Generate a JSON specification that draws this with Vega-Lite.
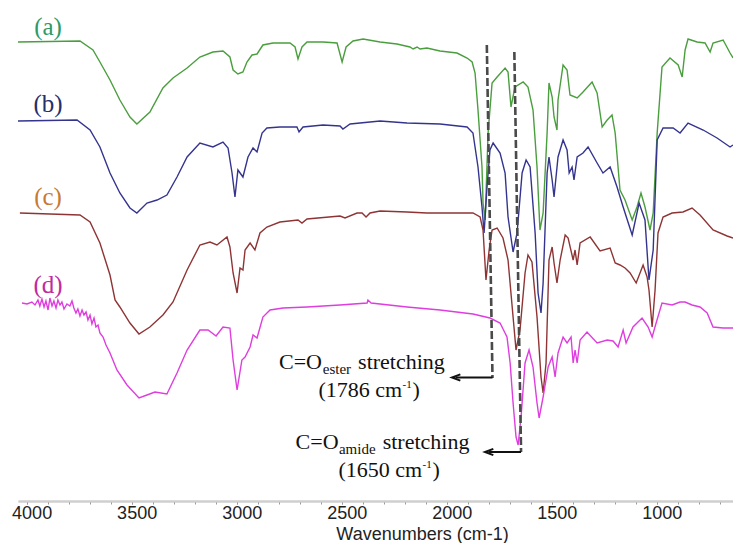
{
  "$schema": "https://vega.github.io/schema/vega-lite/v6.json",
  "width": 715,
  "height": 501,
  "autosize": "none",
  "padding": {"left": 18, "top": 0, "right": 0, "bottom": 42},
  "background": "white",
  "config": {"view": {"stroke": null}, "font": "Liberation Sans"},
  "datasets": {
    "spectra": [
      {"s":"a","wn":4041,"T":459},{"s":"a","wn":3746,"T":460},{"s":"a","wn":3684,"T":451},{"s":"a","wn":3651,"T":439},{"s":"a","wn":3603,"T":421},{"s":"a","wn":3556,"T":401},{"s":"a","wn":3508,"T":384},{"s":"a","wn":3475,"T":377},{"s":"a","wn":3413,"T":389},{"s":"a","wn":3351,"T":413},{"s":"a","wn":3303,"T":423},{"s":"a","wn":3236,"T":433},{"s":"a","wn":3175,"T":444},{"s":"a","wn":3113,"T":449},{"s":"a","wn":3065,"T":450},{"s":"a","wn":3032,"T":444},{"s":"a","wn":3017,"T":431},{"s":"a","wn":2994,"T":427},{"s":"a","wn":2970,"T":429},{"s":"a","wn":2951,"T":439},{"s":"a","wn":2927,"T":446},{"s":"a","wn":2903,"T":447},{"s":"a","wn":2875,"T":456},{"s":"a","wn":2827,"T":458},{"s":"a","wn":2746,"T":458},{"s":"a","wn":2722,"T":454},{"s":"a","wn":2708,"T":442},{"s":"a","wn":2689,"T":454},{"s":"a","wn":2665,"T":459},{"s":"a","wn":2589,"T":459},{"s":"a","wn":2522,"T":458},{"s":"a","wn":2498,"T":439},{"s":"a","wn":2479,"T":454},{"s":"a","wn":2446,"T":460},{"s":"a","wn":2398,"T":462},{"s":"a","wn":2317,"T":459},{"s":"a","wn":2237,"T":457},{"s":"a","wn":2175,"T":454},{"s":"a","wn":2160,"T":452},{"s":"a","wn":2141,"T":454},{"s":"a","wn":2127,"T":452},{"s":"a","wn":2094,"T":453},{"s":"a","wn":2032,"T":450},{"s":"a","wn":1951,"T":448},{"s":"a","wn":1903,"T":443},{"s":"a","wn":1879,"T":439},{"s":"a","wn":1865,"T":428},{"s":"a","wn":1851,"T":391},{"s":"a","wn":1832,"T":334},{"s":"a","wn":1827,"T":298},{"s":"a","wn":1817,"T":281},{"s":"a","wn":1803,"T":368},{"s":"a","wn":1784,"T":418},{"s":"a","wn":1760,"T":424},{"s":"a","wn":1722,"T":433},{"s":"a","wn":1708,"T":429},{"s":"a","wn":1694,"T":394},{"s":"a","wn":1675,"T":414},{"s":"a","wn":1636,"T":419},{"s":"a","wn":1613,"T":414},{"s":"a","wn":1589,"T":391},{"s":"a","wn":1570,"T":334},{"s":"a","wn":1556,"T":271},{"s":"a","wn":1541,"T":288},{"s":"a","wn":1522,"T":368},{"s":"a","wn":1513,"T":418},{"s":"a","wn":1498,"T":404},{"s":"a","wn":1489,"T":384},{"s":"a","wn":1475,"T":371},{"s":"a","wn":1470,"T":401},{"s":"a","wn":1446,"T":436},{"s":"a","wn":1427,"T":431},{"s":"a","wn":1413,"T":406},{"s":"a","wn":1379,"T":403},{"s":"a","wn":1351,"T":409},{"s":"a","wn":1308,"T":419},{"s":"a","wn":1284,"T":408},{"s":"a","wn":1260,"T":374},{"s":"a","wn":1236,"T":381},{"s":"a","wn":1213,"T":386},{"s":"a","wn":1198,"T":368},{"s":"a","wn":1175,"T":311},{"s":"a","wn":1151,"T":301},{"s":"a","wn":1117,"T":281},{"s":"a","wn":1094,"T":294},{"s":"a","wn":1075,"T":308},{"s":"a","wn":1056,"T":294},{"s":"a","wn":1032,"T":271},{"s":"a","wn":1017,"T":288},{"s":"a","wn":998,"T":368},{"s":"a","wn":975,"T":434},{"s":"a","wn":937,"T":443},{"s":"a","wn":898,"T":436},{"s":"a","wn":879,"T":424},{"s":"a","wn":865,"T":451},{"s":"a","wn":851,"T":462},{"s":"a","wn":808,"T":459},{"s":"a","wn":770,"T":458},{"s":"a","wn":746,"T":449},{"s":"a","wn":732,"T":458},{"s":"a","wn":684,"T":461},{"s":"a","wn":651,"T":448},{"s":"a","wn":637,"T":443},
      {"s":"b","wn":4041,"T":380},{"s":"b","wn":3760,"T":381},{"s":"b","wn":3698,"T":371},{"s":"b","wn":3651,"T":354},{"s":"b","wn":3603,"T":328},{"s":"b","wn":3556,"T":308},{"s":"b","wn":3508,"T":293},{"s":"b","wn":3475,"T":288},{"s":"b","wn":3427,"T":298},{"s":"b","wn":3379,"T":301},{"s":"b","wn":3332,"T":306},{"s":"b","wn":3284,"T":324},{"s":"b","wn":3236,"T":344},{"s":"b","wn":3175,"T":358},{"s":"b","wn":3113,"T":354},{"s":"b","wn":3065,"T":359},{"s":"b","wn":3041,"T":353},{"s":"b","wn":3022,"T":328},{"s":"b","wn":3008,"T":304},{"s":"b","wn":2994,"T":331},{"s":"b","wn":2970,"T":324},{"s":"b","wn":2946,"T":344},{"s":"b","wn":2922,"T":353},{"s":"b","wn":2903,"T":349},{"s":"b","wn":2879,"T":368},{"s":"b","wn":2856,"T":373},{"s":"b","wn":2794,"T":374},{"s":"b","wn":2713,"T":374},{"s":"b","wn":2703,"T":369},{"s":"b","wn":2684,"T":374},{"s":"b","wn":2589,"T":376},{"s":"b","wn":2508,"T":375},{"s":"b","wn":2494,"T":372},{"s":"b","wn":2460,"T":377},{"s":"b","wn":2317,"T":380},{"s":"b","wn":2189,"T":378},{"s":"b","wn":2032,"T":377},{"s":"b","wn":1903,"T":374},{"s":"b","wn":1875,"T":368},{"s":"b","wn":1851,"T":334},{"s":"b","wn":1832,"T":294},{"s":"b","wn":1822,"T":268},{"s":"b","wn":1808,"T":314},{"s":"b","wn":1794,"T":351},{"s":"b","wn":1779,"T":358},{"s":"b","wn":1746,"T":348},{"s":"b","wn":1722,"T":328},{"s":"b","wn":1708,"T":284},{"s":"b","wn":1684,"T":249},{"s":"b","wn":1665,"T":268},{"s":"b","wn":1641,"T":328},{"s":"b","wn":1622,"T":341},{"s":"b","wn":1603,"T":334},{"s":"b","wn":1579,"T":268},{"s":"b","wn":1565,"T":208},{"s":"b","wn":1551,"T":188},{"s":"b","wn":1541,"T":218},{"s":"b","wn":1522,"T":328},{"s":"b","wn":1513,"T":344},{"s":"b","wn":1498,"T":321},{"s":"b","wn":1489,"T":304},{"s":"b","wn":1470,"T":344},{"s":"b","wn":1446,"T":361},{"s":"b","wn":1427,"T":351},{"s":"b","wn":1417,"T":328},{"s":"b","wn":1403,"T":334},{"s":"b","wn":1394,"T":321},{"s":"b","wn":1379,"T":344},{"s":"b","wn":1351,"T":348},{"s":"b","wn":1327,"T":354},{"s":"b","wn":1284,"T":338},{"s":"b","wn":1256,"T":328},{"s":"b","wn":1222,"T":334},{"s":"b","wn":1189,"T":314},{"s":"b","wn":1160,"T":294},{"s":"b","wn":1117,"T":266},{"s":"b","wn":1084,"T":298},{"s":"b","wn":1056,"T":281},{"s":"b","wn":1037,"T":221},{"s":"b","wn":1017,"T":251},{"s":"b","wn":998,"T":361},{"s":"b","wn":970,"T":373},{"s":"b","wn":922,"T":373},{"s":"b","wn":889,"T":368},{"s":"b","wn":851,"T":378},{"s":"b","wn":779,"T":371},{"s":"b","wn":713,"T":363},{"s":"b","wn":651,"T":354},{"s":"b","wn":637,"T":356},
      {"s":"c","wn":4032,"T":288},{"s":"c","wn":3746,"T":286},{"s":"c","wn":3698,"T":279},{"s":"c","wn":3651,"T":258},{"s":"c","wn":3603,"T":226},{"s":"c","wn":3579,"T":201},{"s":"c","wn":3556,"T":194},{"s":"c","wn":3508,"T":178},{"s":"c","wn":3465,"T":167},{"s":"c","wn":3413,"T":174},{"s":"c","wn":3351,"T":186},{"s":"c","wn":3303,"T":199},{"s":"c","wn":3236,"T":231},{"s":"c","wn":3175,"T":256},{"s":"c","wn":3127,"T":259},{"s":"c","wn":3094,"T":256},{"s":"c","wn":3046,"T":264},{"s":"c","wn":3032,"T":254},{"s":"c","wn":3017,"T":228},{"s":"c","wn":2998,"T":208},{"s":"c","wn":2984,"T":233},{"s":"c","wn":2970,"T":231},{"s":"c","wn":2960,"T":251},{"s":"c","wn":2936,"T":258},{"s":"c","wn":2913,"T":251},{"s":"c","wn":2889,"T":268},{"s":"c","wn":2856,"T":274},{"s":"c","wn":2794,"T":279},{"s":"c","wn":2708,"T":281},{"s":"c","wn":2689,"T":278},{"s":"c","wn":2665,"T":282},{"s":"c","wn":2508,"T":285},{"s":"c","wn":2484,"T":283},{"s":"c","wn":2427,"T":288},{"s":"c","wn":2403,"T":288},{"s":"c","wn":2384,"T":284},{"s":"c","wn":2365,"T":288},{"s":"c","wn":2317,"T":290},{"s":"c","wn":2189,"T":289},{"s":"c","wn":2094,"T":288},{"s":"c","wn":1875,"T":288},{"s":"c","wn":1841,"T":284},{"s":"c","wn":1827,"T":271},{"s":"c","wn":1813,"T":221},{"s":"c","wn":1798,"T":251},{"s":"c","wn":1784,"T":271},{"s":"c","wn":1760,"T":273},{"s":"c","wn":1732,"T":263},{"s":"c","wn":1708,"T":241},{"s":"c","wn":1684,"T":184},{"s":"c","wn":1670,"T":151},{"s":"c","wn":1651,"T":171},{"s":"c","wn":1627,"T":228},{"s":"c","wn":1613,"T":246},{"s":"c","wn":1594,"T":239},{"s":"c","wn":1570,"T":184},{"s":"c","wn":1551,"T":124},{"s":"c","wn":1541,"T":108},{"s":"c","wn":1527,"T":138},{"s":"c","wn":1513,"T":241},{"s":"c","wn":1498,"T":254},{"s":"c","wn":1489,"T":238},{"s":"c","wn":1475,"T":218},{"s":"c","wn":1460,"T":241},{"s":"c","wn":1436,"T":266},{"s":"c","wn":1422,"T":263},{"s":"c","wn":1398,"T":241},{"s":"c","wn":1389,"T":251},{"s":"c","wn":1379,"T":236},{"s":"c","wn":1365,"T":258},{"s":"c","wn":1317,"T":264},{"s":"c","wn":1270,"T":250},{"s":"c","wn":1222,"T":253},{"s":"c","wn":1198,"T":238},{"s":"c","wn":1175,"T":236},{"s":"c","wn":1151,"T":233},{"s":"c","wn":1127,"T":228},{"s":"c","wn":1098,"T":218},{"s":"c","wn":1065,"T":236},{"s":"c","wn":1046,"T":224},{"s":"c","wn":1037,"T":211},{"s":"c","wn":1022,"T":174},{"s":"c","wn":1008,"T":211},{"s":"c","wn":994,"T":268},{"s":"c","wn":970,"T":284},{"s":"c","wn":927,"T":288},{"s":"c","wn":875,"T":289},{"s":"c","wn":832,"T":293},{"s":"c","wn":794,"T":286},{"s":"c","wn":732,"T":271},{"s":"c","wn":665,"T":265},{"s":"c","wn":637,"T":263},
      {"s":"d","wn":4022,"T":198},{"s":"d","wn":3998,"T":197},{"s":"d","wn":3975,"T":199},{"s":"d","wn":3960,"T":196},{"s":"d","wn":3946,"T":201},{"s":"d","wn":3937,"T":195},{"s":"d","wn":3927,"T":202},{"s":"d","wn":3917,"T":194},{"s":"d","wn":3908,"T":200},{"s":"d","wn":3898,"T":191},{"s":"d","wn":3889,"T":203},{"s":"d","wn":3879,"T":195},{"s":"d","wn":3870,"T":200},{"s":"d","wn":3860,"T":193},{"s":"d","wn":3851,"T":201},{"s":"d","wn":3841,"T":196},{"s":"d","wn":3832,"T":199},{"s":"d","wn":3822,"T":192},{"s":"d","wn":3808,"T":197},{"s":"d","wn":3794,"T":195},{"s":"d","wn":3784,"T":200},{"s":"d","wn":3775,"T":193},{"s":"d","wn":3765,"T":188},{"s":"d","wn":3756,"T":192},{"s":"d","wn":3746,"T":185},{"s":"d","wn":3736,"T":191},{"s":"d","wn":3727,"T":186},{"s":"d","wn":3717,"T":189},{"s":"d","wn":3708,"T":181},{"s":"d","wn":3698,"T":186},{"s":"d","wn":3689,"T":177},{"s":"d","wn":3679,"T":183},{"s":"d","wn":3670,"T":174},{"s":"d","wn":3660,"T":176},{"s":"d","wn":3651,"T":168},{"s":"d","wn":3636,"T":164},{"s":"d","wn":3622,"T":156},{"s":"d","wn":3603,"T":148},{"s":"d","wn":3570,"T":131},{"s":"d","wn":3522,"T":116},{"s":"d","wn":3465,"T":103},{"s":"d","wn":3427,"T":106},{"s":"d","wn":3389,"T":109},{"s":"d","wn":3332,"T":107},{"s":"d","wn":3284,"T":128},{"s":"d","wn":3236,"T":151},{"s":"d","wn":3175,"T":171},{"s":"d","wn":3136,"T":171},{"s":"d","wn":3098,"T":165},{"s":"d","wn":3065,"T":174},{"s":"d","wn":3032,"T":173},{"s":"d","wn":3017,"T":141},{"s":"d","wn":2998,"T":111},{"s":"d","wn":2975,"T":141},{"s":"d","wn":2960,"T":144},{"s":"d","wn":2936,"T":154},{"s":"d","wn":2922,"T":166},{"s":"d","wn":2903,"T":163},{"s":"d","wn":2875,"T":184},{"s":"d","wn":2841,"T":191},{"s":"d","wn":2779,"T":193},{"s":"d","wn":2665,"T":194},{"s":"d","wn":2508,"T":196},{"s":"d","wn":2379,"T":198},{"s":"d","wn":2375,"T":201},{"s":"d","wn":2360,"T":198},{"s":"d","wn":2189,"T":194},{"s":"d","wn":2032,"T":191},{"s":"d","wn":1875,"T":187},{"s":"d","wn":1794,"T":183},{"s":"d","wn":1746,"T":178},{"s":"d","wn":1713,"T":164},{"s":"d","wn":1698,"T":138},{"s":"d","wn":1684,"T":98},{"s":"d","wn":1670,"T":64},{"s":"d","wn":1660,"T":56},{"s":"d","wn":1646,"T":84},{"s":"d","wn":1627,"T":138},{"s":"d","wn":1608,"T":151},{"s":"d","wn":1589,"T":134},{"s":"d","wn":1570,"T":98},{"s":"d","wn":1560,"T":83},{"s":"d","wn":1541,"T":104},{"s":"d","wn":1517,"T":134},{"s":"d","wn":1498,"T":144},{"s":"d","wn":1484,"T":124},{"s":"d","wn":1470,"T":148},{"s":"d","wn":1446,"T":164},{"s":"d","wn":1427,"T":158},{"s":"d","wn":1408,"T":164},{"s":"d","wn":1398,"T":138},{"s":"d","wn":1389,"T":151},{"s":"d","wn":1379,"T":138},{"s":"d","wn":1365,"T":161},{"s":"d","wn":1332,"T":169},{"s":"d","wn":1284,"T":158},{"s":"d","wn":1236,"T":161},{"s":"d","wn":1208,"T":160},{"s":"d","wn":1184,"T":154},{"s":"d","wn":1160,"T":171},{"s":"d","wn":1146,"T":158},{"s":"d","wn":1113,"T":174},{"s":"d","wn":1070,"T":183},{"s":"d","wn":1041,"T":174},{"s":"d","wn":1022,"T":164},{"s":"d","wn":1003,"T":178},{"s":"d","wn":975,"T":198},{"s":"d","wn":927,"T":196},{"s":"d","wn":889,"T":199},{"s":"d","wn":865,"T":199},{"s":"d","wn":832,"T":196},{"s":"d","wn":794,"T":194},{"s":"d","wn":760,"T":188},{"s":"d","wn":732,"T":174},{"s":"d","wn":684,"T":173},{"s":"d","wn":637,"T":173}
    ]
  },
  "resolve": {"scale": {"color": "independent"}, "axis": {"x": "independent"}},
  "layer": [
    {
      "data": {"name": "spectra"},
      "mark": {"type": "line", "strokeWidth": 1.4},
      "encoding": {
        "x": {"field": "wn", "type": "quantitative",
              "scale": {"domain": [637, 4041], "reverse": true, "nice": false, "zero": false},
              "axis": {
                "orient": "bottom",
                "values": [4000, 3500, 3000, 2500, 2000, 1500, 1000],
                "format": "d",
                "labelFont": "Liberation Sans", "labelFontSize": 18, "labelColor": "#222222",
                "labelPadding": 0, "labelOverlap": false, "labelFlush": false, "labelOffset": 5,
                "tickSize": 3, "tickColor": "#9a9a9a", "tickWidth": 1,
                "domainColor": "#cfcfcf", "domainWidth": 2, "grid": false,
                "title": "Wavenumbers (cm-1)", "titleFont": "Liberation Sans", "titleFontSize": 18,
                "titleFontWeight": "normal", "titleColor": "#222222",
                "titleX": 404, "titleY": 38.5, "titleBaseline": "alphabetic", "titleAlign": "center"
              }},
        "y": {"field": "T", "type": "quantitative", "scale": {"domain": [0, 501], "nice": false, "zero": false}, "axis": null},
        "color": {"field": "s", "type": "nominal",
                  "scale": {"domain": ["a","b","c","d"], "range": ["#4a9e3e","#34348f","#8e3434","#de3ede"]},
                  "legend": null}
      }
    },
    {
      "data": {"values": [
        {"wn": 1809, "T": 456, "wn2": 1782, "T2": 123},
        {"wn": 1678, "T": 449, "wn2": 1646, "T2": 49}
      ]},
      "mark": {"type": "rule", "color": "#4a4a4a", "strokeWidth": 2.6, "strokeDash": [8, 3]},
      "encoding": {
        "x": {"field": "wn", "type": "quantitative",
              "axis": {
                "orient": "bottom",
                "values": [4000,3900,3800,3700,3600,3500,3400,3300,3200,3100,3000,2900,2800,2700,2600,2500,2400,2300,2200,2100,2000,1900,1800,1700,1600,1500,1400,1300,1200,1100,1000,900,800,700],
                "labels": false, "title": null, "grid": false,
                "tickSize": 3, "tickColor": "#9a9a9a", "tickWidth": 1,
                "domainColor": "#cfcfcf", "domainWidth": 2
              }},
        "x2": {"field": "wn2"},
        "y": {"field": "T", "type": "quantitative"},
        "y2": {"field": "T2"}
      }
    },
    {
      "data": {"values": [
        {"wn": 1782, "T": 123.5, "wn2": 1958},
        {"wn": 1646, "T": 49, "wn2": 1801}
      ]},
      "mark": {"type": "rule", "color": "#111111", "strokeWidth": 2},
      "encoding": {
        "x": {"field": "wn", "type": "quantitative", "axis": null},
        "x2": {"field": "wn2"},
        "y": {"field": "T", "type": "quantitative"}
      }
    },
    {
      "data": {"values": [
        {"wn": 1955, "T": 123.5},
        {"wn": 1798, "T": 49}
      ]},
      "mark": {"type": "point", "shape": "M 1 -0.75 L -1 0 L 1 0.75", "filled": false, "stroke": "#111111", "strokeWidth": 2, "size": 70, "opacity": 1},
      "encoding": {
        "x": {"field": "wn", "type": "quantitative", "axis": null},
        "y": {"field": "T", "type": "quantitative"}
      }
    },
    {
      "data": {"values": [
        {"lab": "(a)", "wn": 3898, "T": 466},
        {"lab": "(b)", "wn": 3898, "T": 389},
        {"lab": "(c)", "wn": 3898, "T": 296},
        {"lab": "(d)", "wn": 3898, "T": 208}
      ]},
      "mark": {"type": "text", "font": "Liberation Serif", "fontSize": 25, "align": "center", "baseline": "alphabetic"},
      "encoding": {
        "x": {"field": "wn", "type": "quantitative", "axis": null},
        "y": {"field": "T", "type": "quantitative"},
        "text": {"field": "lab"},
        "color": {"field": "lab", "type": "nominal",
                  "scale": {"domain": ["(a)","(b)","(c)","(d)"], "range": ["#2e9a66","#23306e","#c87a32","#c02aa0"]},
                  "legend": null}
      }
    },
    {
      "data": {"values": [
        {"txt": "C=O", "wn": 2594, "T": 132},
        {"txt": "(1786 cm", "wn": 2212, "T": 104},
        {"txt": "C=O", "wn": 2515, "T": 52},
        {"txt": "(1650 cm", "wn": 2117, "T": 24}
      ]},
      "mark": {"type": "text", "font": "Liberation Serif", "fontSize": 22, "align": "right", "baseline": "alphabetic", "color": "#111111"},
      "encoding": {
        "x": {"field": "wn", "type": "quantitative", "axis": null},
        "y": {"field": "T", "type": "quantitative"},
        "text": {"field": "txt"}
      }
    },
    {
      "data": {"values": [
        {"txt": "stretching", "wn": 2422, "T": 132},
        {"txt": ")", "wn": 2163, "T": 104},
        {"txt": "stretching", "wn": 2305, "T": 52},
        {"txt": ")", "wn": 2068, "T": 24}
      ]},
      "mark": {"type": "text", "font": "Liberation Serif", "fontSize": 22, "align": "left", "baseline": "alphabetic", "color": "#111111"},
      "encoding": {
        "x": {"field": "wn", "type": "quantitative", "axis": null},
        "y": {"field": "T", "type": "quantitative"},
        "text": {"field": "txt"}
      }
    },
    {
      "data": {"values": [
        {"txt": "ester", "wn": 2590, "T": 127.5},
        {"txt": "amide", "wn": 2513, "T": 47}
      ]},
      "mark": {"type": "text", "font": "Liberation Serif", "fontSize": 15, "align": "left", "baseline": "alphabetic", "color": "#111111"},
      "encoding": {
        "x": {"field": "wn", "type": "quantitative", "axis": null},
        "y": {"field": "T", "type": "quantitative"},
        "text": {"field": "txt"}
      }
    },
    {
      "data": {"values": [
        {"txt": "-1", "wn": 2210, "T": 113},
        {"txt": "-1", "wn": 2115, "T": 33}
      ]},
      "mark": {"type": "text", "font": "Liberation Serif", "fontSize": 11, "align": "left", "baseline": "alphabetic", "color": "#111111"},
      "encoding": {
        "x": {"field": "wn", "type": "quantitative", "axis": null},
        "y": {"field": "T", "type": "quantitative"},
        "text": {"field": "txt"}
      }
    }
  ]
}
